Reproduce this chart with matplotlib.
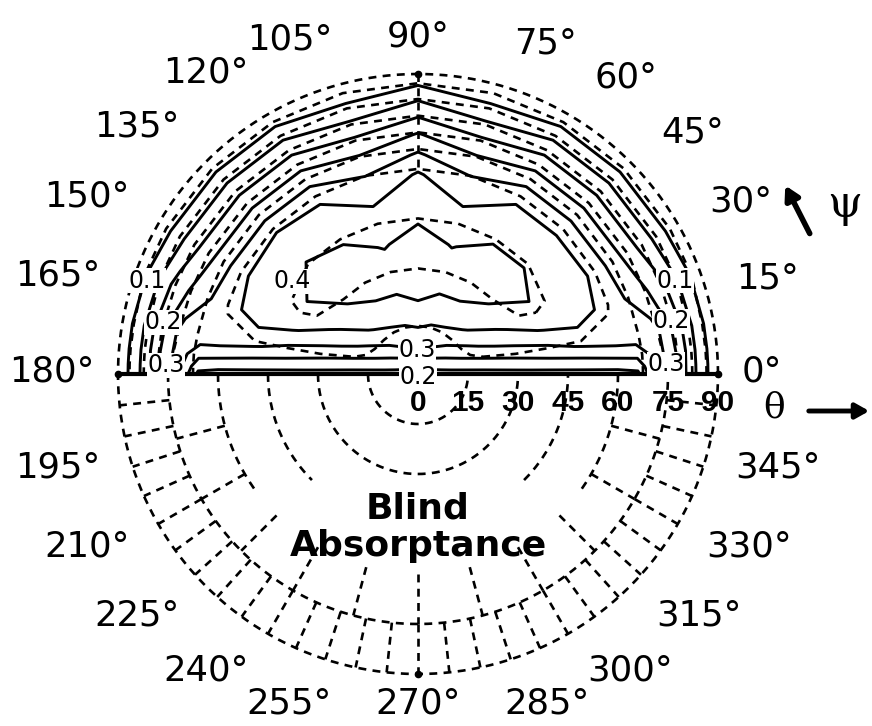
import numpy as np
import matplotlib
matplotlib.use("Agg")
import matplotlib.pyplot as plt

# ---------------- data ----------------
# incidence angle theta (deg) -> radius, azimuth psi (deg) -> polar angle
THETA = [0, 10, 20, 30, 40, 50, 60, 66, 72, 78, 84, 90]
PSI = [0, 2, 5, 10, 20, 30, 45, 60, 75, 90, 105, 120, 135, 150, 160, 170, 175, 178, 180]

# measured blind absorptance (solid contours), one row per PSI value
ABS_MEASURED = [
    [0.18, 0.180, 0.180, 0.180, 0.180, 0.180, 0.180, 0.190, 0.310, 0.240, 0.140, 0.06],   # 0
    [0.18, 0.186, 0.192, 0.198, 0.203, 0.208, 0.212, 0.215, 0.320, 0.240, 0.140, 0.06],   # 2
    [0.18, 0.195, 0.208, 0.220, 0.232, 0.244, 0.257, 0.265, 0.325, 0.245, 0.140, 0.06],   # 5
    [0.18, 0.208, 0.232, 0.256, 0.282, 0.306, 0.326, 0.330, 0.320, 0.240, 0.140, 0.06],   # 10
    [0.18, 0.231, 0.281, 0.324, 0.356, 0.376, 0.335, 0.300, 0.260, 0.210, 0.135, 0.06],   # 20
    [0.18, 0.253, 0.321, 0.364, 0.396, 0.385, 0.345, 0.290, 0.235, 0.180, 0.120, 0.05],   # 30
    [0.18, 0.284, 0.359, 0.401, 0.415, 0.385, 0.345, 0.290, 0.235, 0.180, 0.120, 0.05],   # 45
    [0.18, 0.306, 0.377, 0.421, 0.415, 0.385, 0.345, 0.290, 0.235, 0.180, 0.120, 0.05],   # 60
    [0.18, 0.317, 0.380, 0.421, 0.398, 0.360, 0.310, 0.266, 0.215, 0.155, 0.100, 0.04],   # 75
    [0.18, 0.321, 0.394, 0.424, 0.415, 0.385, 0.355, 0.305, 0.253, 0.190, 0.130, 0.06],   # 90
    [0.18, 0.317, 0.382, 0.420, 0.397, 0.360, 0.310, 0.266, 0.215, 0.155, 0.100, 0.04],   # 105
    [0.18, 0.306, 0.377, 0.420, 0.414, 0.385, 0.345, 0.290, 0.235, 0.180, 0.120, 0.05],   # 120
    [0.18, 0.284, 0.359, 0.401, 0.415, 0.395, 0.350, 0.290, 0.235, 0.180, 0.120, 0.05],   # 135
    [0.18, 0.253, 0.321, 0.364, 0.396, 0.385, 0.345, 0.290, 0.235, 0.180, 0.120, 0.05],   # 150
    [0.18, 0.231, 0.281, 0.324, 0.356, 0.376, 0.335, 0.300, 0.260, 0.210, 0.135, 0.06],   # 160
    [0.18, 0.208, 0.232, 0.256, 0.282, 0.306, 0.326, 0.330, 0.320, 0.240, 0.140, 0.06],   # 170
    [0.18, 0.195, 0.208, 0.220, 0.232, 0.244, 0.257, 0.265, 0.325, 0.245, 0.140, 0.06],   # 175
    [0.18, 0.186, 0.192, 0.198, 0.203, 0.208, 0.212, 0.215, 0.320, 0.240, 0.140, 0.06],   # 178
    [0.18, 0.180, 0.180, 0.180, 0.180, 0.180, 0.180, 0.190, 0.310, 0.240, 0.140, 0.06],   # 180
]

# calculated blind absorptance (dashed contours)
ABS_CALCULATED = [
    [0.31, 0.310, 0.320, 0.320, 0.320, 0.320, 0.320, 0.310, 0.270, 0.200, 0.130, 0.06],   # 0
    [0.31, 0.312, 0.322, 0.325, 0.326, 0.326, 0.324, 0.310, 0.270, 0.200, 0.130, 0.06],   # 2
    [0.31, 0.315, 0.325, 0.330, 0.335, 0.335, 0.330, 0.310, 0.270, 0.200, 0.130, 0.06],   # 5
    [0.31, 0.325, 0.340, 0.345, 0.345, 0.345, 0.335, 0.310, 0.260, 0.200, 0.130, 0.06],   # 10
    [0.31, 0.330, 0.360, 0.375, 0.385, 0.380, 0.355, 0.310, 0.255, 0.195, 0.135, 0.07],   # 20
    [0.31, 0.330, 0.370, 0.395, 0.405, 0.392, 0.360, 0.313, 0.255, 0.195, 0.135, 0.07],   # 30
    [0.31, 0.330, 0.375, 0.398, 0.410, 0.395, 0.362, 0.315, 0.255, 0.195, 0.135, 0.07],   # 45
    [0.31, 0.330, 0.375, 0.398, 0.410, 0.395, 0.362, 0.315, 0.255, 0.195, 0.135, 0.07],   # 60
    [0.31, 0.330, 0.375, 0.398, 0.410, 0.395, 0.362, 0.315, 0.255, 0.195, 0.135, 0.07],   # 75
    [0.31, 0.330, 0.375, 0.398, 0.410, 0.395, 0.362, 0.315, 0.255, 0.195, 0.135, 0.07],   # 90
    [0.31, 0.330, 0.375, 0.398, 0.410, 0.395, 0.362, 0.315, 0.255, 0.195, 0.135, 0.07],   # 105
    [0.31, 0.330, 0.375, 0.398, 0.410, 0.395, 0.362, 0.315, 0.255, 0.195, 0.135, 0.07],   # 120
    [0.31, 0.330, 0.375, 0.398, 0.410, 0.395, 0.362, 0.315, 0.255, 0.195, 0.135, 0.07],   # 135
    [0.31, 0.330, 0.370, 0.395, 0.405, 0.392, 0.360, 0.313, 0.255, 0.195, 0.135, 0.07],   # 150
    [0.31, 0.330, 0.360, 0.375, 0.385, 0.380, 0.355, 0.310, 0.255, 0.195, 0.135, 0.07],   # 160
    [0.31, 0.325, 0.340, 0.345, 0.345, 0.345, 0.335, 0.310, 0.260, 0.200, 0.130, 0.06],   # 170
    [0.31, 0.315, 0.325, 0.330, 0.335, 0.335, 0.330, 0.310, 0.270, 0.200, 0.130, 0.06],   # 175
    [0.31, 0.312, 0.322, 0.325, 0.326, 0.326, 0.324, 0.310, 0.270, 0.200, 0.130, 0.06],   # 178
    [0.31, 0.310, 0.320, 0.320, 0.320, 0.320, 0.320, 0.310, 0.270, 0.200, 0.130, 0.06],   # 180
]

LEVELS = [0.10, 0.15, 0.20, 0.25, 0.30, 0.35, 0.40]

THETA_TICKS = [0, 15, 30, 45, 60, 75, 90]
PSI_LABELS = list(range(0, 360, 15))

# contour labels: (text, theta, psi)
CONTOUR_LABELS = [
    ("0.1", 86.0, 161.0), ("0.2", 78.0, 168.5), ("0.3", 75.6, 178.0),
    ("0.1", 82.0, 20.0), ("0.2", 77.5, 11.8), ("0.3", 74.5, 2.3),
    ("0.4", 47.0, 143.6), ("0.3", 7.2, 93.0), ("0.2", 1.0, 270.0),
]

# ---------------- figure ----------------
W, H = 872, 726
fig = plt.figure(figsize=(W / 100, H / 100), dpi=100)
ax = fig.add_axes([0, 0, 1, 1])
S = 10.0 / 3.0          # pixels per degree of theta
CX, CY = 418, 374       # pixel centre
ax.set_xlim(-CX / S, (W - CX) / S)
ax.set_ylim((CY - H) / S, CY / S)
ax.set_aspect("equal")
ax.axis("off")

T, P = np.meshgrid(np.array(THETA, float), np.radians(np.array(PSI, float)))
X = T * np.cos(P)
Y = T * np.sin(P)
Zm = np.array(ABS_MEASURED)
Zc = np.array(ABS_CALCULATED)

DASH = (0, (3.0, 2.4))
ax.contour(X, Y, Zm, levels=LEVELS, colors="k", linewidths=2.1, linestyles="solid")
ax.contour(X, Y, Zc, levels=LEVELS, colors="k", linewidths=1.9, linestyles=[DASH])

# ---- polar frame / lower-half grid (dashed) ----
gkw = dict(color="k", lw=1.9, linestyle=DASH)


def arc(r, a0, a1):
    a = np.radians(np.linspace(a0, a1, 200))
    ax.plot(r * np.cos(a), r * np.sin(a), **gkw)


def radial(a, r0, r1):
    c, s = np.cos(np.radians(a)), np.sin(np.radians(a))
    ax.plot([r0 * c, r1 * c], [r0 * s, r1 * s], **gkw)


arc(90, 0, 360)
arc(15, 180, 360)
arc(30, 180, 360)
arc(45, 180, 225)
arc(45, 315, 360)
arc(60, 180, 215)
arc(60, 325, 360)
arc(75, 180, 360)
for a in range(186, 360, 6):
    radial(a, 75, 90)
for a in range(195, 360, 15):
    radial(a, 60, 75)
radial(90, 62, 90)

# horizontal axis
ax.plot([-90, 90], [0, 0], color="k", lw=3.0, solid_capstyle="butt")
ax.plot([-90, 90, 0, 0], [0, 0, 90, -90], "o", color="k", ms=4.5)

# theta tick labels
for t in THETA_TICKS:
    ax.text(t, -8.7, str(t), ha="center", va="center", fontsize=21.5,
            fontweight="bold", family="Liberation Sans")

# psi angle labels around the circle (spread away from the vertical axis)
FS = 25.5
em = FS * 100 / 72
ymin = (CY - 703) / S
for a in PSI_LABELS:
    s = f"{a}°"
    wpx = len(str(a)) * 0.636 * em + 0.5 * em
    hw = wpx / 2 / S
    hh = 3.3
    rad0 = np.radians(a)
    sgn = np.sign(np.round(np.sin(2 * rad0), 6))
    shift = -sgn * 6.5 * max(abs(np.sin(rad0)) - 0.25, 0) / 0.75
    rad = np.radians(a + shift)
    R = 97 + abs(np.cos(rad)) * hw + abs(np.sin(rad)) * hh + 3.0 * abs(np.sin(2 * rad))
    x, y = R * np.cos(rad), max(R * np.sin(rad) + 0.8, ymin)
    ax.text(x, y, s, ha="center", va="center", fontsize=FS, family="DejaVu Sans")

# contour labels
for s, t, p in CONTOUR_LABELS:
    r = np.radians(p)
    ax.text(t * np.cos(r), t * np.sin(r), s, ha="center", va="center",
            fontsize=17, family="DejaVu Sans",
            bbox=dict(facecolor="white", edgecolor="none", pad=0.3))

# title inside the lower half
ax.text(0, -46, "Blind\nAbsorptance", ha="center", va="center", fontsize=26,
        fontweight="bold", family="DejaVu Sans", linespacing=1.15)

# theta / psi direction markers
ax.text((774 - CX) / S, (CY - 408) / S, "θ", ha="center", va="center",
        fontsize=26, family="DejaVu Serif")
ax.annotate("", xy=((872 - CX) / S, (CY - 411) / S), xytext=((806 - CX) / S, (CY - 411) / S),
            arrowprops=dict(arrowstyle="-|>,head_length=0.8,head_width=0.45", lw=3.5, color="k"))
ax.text((845 - CX) / S, (CY - 204) / S, "ψ", ha="center", va="center",
        fontsize=32, family="DejaVu Serif")
ax.annotate("", xy=((784 - CX) / S, (CY - 183) / S), xytext=((811 - CX) / S, (CY - 236) / S),
            arrowprops=dict(arrowstyle="-|>,head_length=0.8,head_width=0.45", lw=4, color="k"))

fig.savefig("out.png", dpi=100, facecolor="white")
